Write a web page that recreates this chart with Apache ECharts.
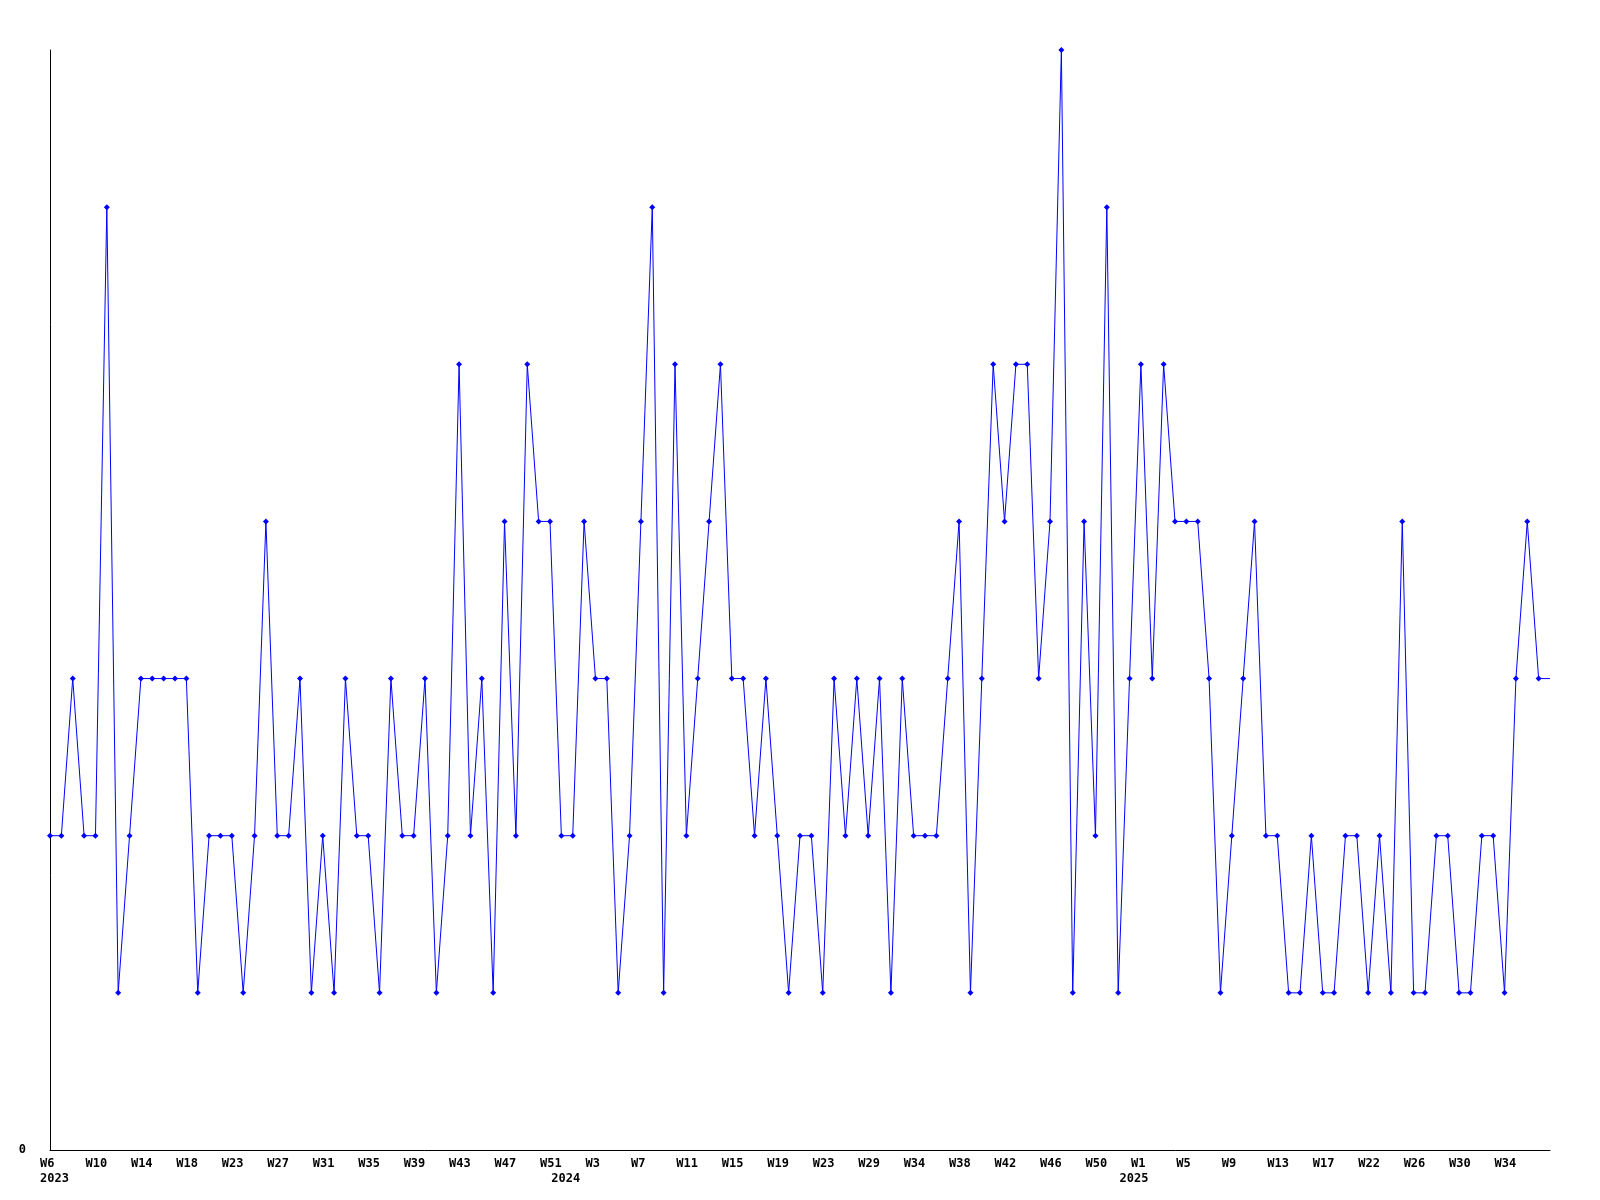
<!DOCTYPE html>
<html>
<head>
<meta charset="utf-8">
<script src="https://cdn.jsdelivr.net/npm/echarts@6/dist/echarts.min.js"></script>
<style>
html,body{margin:0;padding:0;background:#fff;}
#c{width:1600px;height:1200px;}
</style>
</head>
<body>
<div id="c"></div>
<script>
// Weeks present in the data, per year
const weeks2023 = [6,7,8,9,10,11,12,13,14,15,16,17,18,19,20,22,23,24,25,26,27,28,29,30,31,32,33,34,35,36,37,38,39,40,41,42,43,44,45,46,47,48,49,50,51];
const weeks2024 = [0,1,2,3,4,5,6,7,8,9,10,11,12,13,14,15,16,17,18,19,20,21,22,23,24,26,27,29,30,31,33,34,35,36,37,38,39,40,41,42,43,44,45,46,47,48,49,50,51,52];
const weeks2025 = [0,1,2,3,4,5,6,7,8,9,10,11,12,13,14,15,16,17,18,19,21,22,23,24,25,26,27,28,29,30,31,32,33,34,35,36,37,38];

// Weekly counts
const values = [
  2,2,3,2,2,6,1,2,3,3,
  3,3,3,1,2,2,2,1,2,4,
  2,2,3,1,2,1,3,2,2,1,
  3,2,2,3,1,2,5,2,3,1,
  4,2,5,4,4,2,2,4,3,3,
  1,2,4,6,1,5,2,3,4,5,
  3,3,2,3,2,1,2,2,1,3,
  2,3,2,3,1,3,2,2,2,3,
  4,1,3,5,4,5,5,3,4,7,
  1,4,2,6,1,3,5,3,5,4,
  4,4,3,1,2,3,4,2,2,1,
  1,2,1,1,2,2,1,2,1,4,
  1,1,2,2,1,1,2,2,1,3,
  4,3,3
];

const yTickLabels = ['0'];

const cats = [];
const years = [];
[[2023, weeks2023],[2024, weeks2024],[2025, weeks2025]].forEach(([y, ws]) => {
  ws.forEach(w => { cats.push('W' + w); years.push(String(y)); });
});

const seriesData = values.map((v, i) => (i === values.length - 1 ? {value: v, symbol: 'none'} : v));

const font = 'DejaVu Sans Mono';
const chart = echarts.init(document.getElementById('c'), null, {renderer: 'canvas'});
chart.setOption({
  animation: false,
  backgroundColor: '#ffffff',
  grid: {left: 50, right: 50, top: 50, bottom: 50, containLabel: false},
  xAxis: [{
    type: 'category',
    data: cats,
    boundaryGap: false,
    axisLine: {show: true, lineStyle: {color: '#000', width: 1}},
    axisTick: {show: false},
    splitLine: {show: false},
    axisLabel: {
      interval: (idx) => idx % 4 === 0 && idx < cats.length - 1,
      margin: 8,
      align: 'left',
      padding: [0, 0, 0, -10],
      color: '#000',
      fontFamily: font,
      fontWeight: 'bold',
      fontSize: 12
    }
  }, {
    type: 'category',
    data: cats,
    position: 'bottom',
    boundaryGap: false,
    axisLine: {show: false},
    axisTick: {show: false},
    splitLine: {show: false},
    axisLabel: {
      interval: 0,
      margin: 23,
      align: 'left',
      padding: [0, 0, 0, -10],
      color: '#000',
      fontFamily: font,
      fontWeight: 'bold',
      fontSize: 12,
      formatter: (val, idx) => (idx === 0 || years[idx] !== years[idx - 1]) ? years[idx] : ''
    }
  }],
  yAxis: {
    type: 'value',
    min: 0,
    max: 7,
    interval: 1,
    axisLine: {show: true, lineStyle: {color: '#000', width: 1}},
    axisTick: {show: false},
    splitLine: {show: false},
    axisLabel: {
      margin: 24,
      padding: [6, 0, 0, 0],
      color: '#000',
      fontFamily: font,
      fontWeight: 'bold',
      fontSize: 12,
      formatter: v => (v === 0 ? yTickLabels[0] : '')
    }
  },
  series: [{
    type: 'line',
    data: seriesData,
    xAxisIndex: 0,
    symbol: 'diamond',
    symbolSize: 6,
    showAllSymbol: true,
    lineStyle: {color: '#0000ff', width: 1},
    itemStyle: {color: '#0000ff', borderWidth: 0},
    emphasis: {disabled: true}
  }]
});
</script>
</body>
</html>
